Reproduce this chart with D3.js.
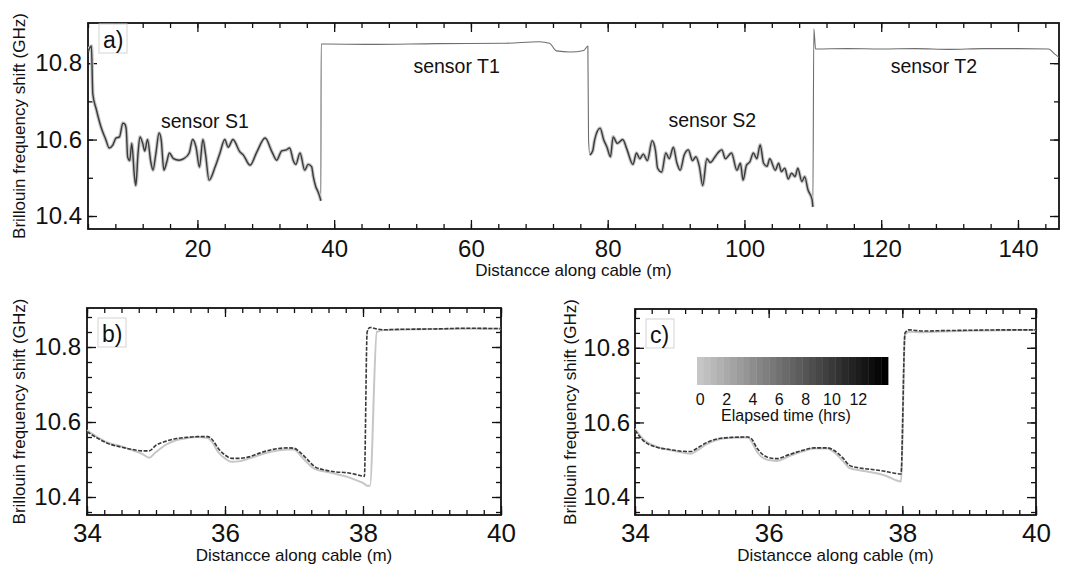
<!DOCTYPE html>
<html>
<head>
<meta charset="utf-8">
<script src="https://cdn.jsdelivr.net/npm/d3@7"></script>
<style>
  body { margin: 0; background: #fff; }
  text { font-family: "Liberation Sans", Arial, sans-serif; fill: #111; }
</style>
</head>
<body>
<svg id="chart" width="1077" height="571"></svg>
<script>
// panel a: whole cable profile (m, GHz)
var distA = [4.0, 4.5, 4.7, 5.2, 5.9, 6.6, 7.1, 7.6, 8.1, 8.6, 9.1, 9.4, 9.6, 9.8, 10.1, 10.4, 10.8, 11.0, 11.3, 11.6,
  12.0, 12.3, 12.7, 13.2, 13.5, 13.9, 14.4, 14.7, 15.1, 15.5, 15.9, 16.5, 17.3, 18.0, 18.8, 19.3, 19.8, 20.3, 20.8, 21.2,
  21.7, 22.6, 23.3, 24.0, 24.5, 25.2, 26.2, 26.7, 27.7, 28.7, 29.9, 30.9, 31.6, 32.3, 33.0, 33.5, 34.0, 34.4, 35.0, 35.7,
  36.2, 36.7, 36.95, 37.3, 37.6, 37.9, 38.05,
  38.1, 38.5, 45, 55, 65, 70, 71.5, 72.5, 74.5, 76.5, 77.1,
  77.2, 77.4, 77.8, 78.1, 78.9, 79.4, 79.9, 80.4, 80.8, 81.4, 82.2, 82.8, 83.7, 84.2, 84.7, 85.2, 85.8, 86.5, 87.0, 87.3,
  87.9, 88.5, 89.0, 89.6, 90.1, 90.6, 91.2, 91.8, 92.4, 92.9, 93.4, 93.9, 94.5, 95.0, 95.7, 96.1, 96.7, 97.2, 98.1, 98.9,
  99.4, 99.8, 100.3, 100.8, 101.3, 101.8, 102.3, 102.8, 103.3, 103.7, 104.5, 105.0, 105.4, 105.9, 106.4, 106.9, 107.4,
  107.8, 108.4, 108.8, 109.3, 109.9, 110.0,
  110.15, 110.4, 115, 120, 125, 130, 135, 140, 144.5, 145.3, 146];
var bfsA = [10.83, 10.845, 10.72, 10.68, 10.633, 10.6, 10.578, 10.585, 10.604, 10.607, 10.643, 10.64, 10.625, 10.554, 10.545, 10.59, 10.502, 10.48, 10.56, 10.607,
  10.59, 10.57, 10.6, 10.54, 10.52, 10.56, 10.617, 10.6, 10.52, 10.54, 10.565, 10.55, 10.546, 10.55, 10.565, 10.6, 10.58, 10.528, 10.6, 10.56,
  10.494, 10.529, 10.565, 10.6, 10.58, 10.6, 10.568, 10.56, 10.533, 10.568, 10.604, 10.568, 10.546, 10.57, 10.573, 10.578, 10.546, 10.535, 10.565, 10.52,
  10.535, 10.529, 10.503, 10.477, 10.465, 10.45, 10.44,
  10.85, 10.85, 10.849, 10.851, 10.852, 10.856, 10.852, 10.832, 10.829, 10.833, 10.845,
  10.6, 10.56, 10.57, 10.6, 10.63, 10.6, 10.58, 10.555, 10.607, 10.59, 10.6, 10.575, 10.535, 10.565, 10.55, 10.562, 10.545, 10.597, 10.57, 10.525,
  10.515, 10.565, 10.55, 10.58, 10.54, 10.52, 10.56, 10.573, 10.545, 10.555, 10.53, 10.48, 10.55, 10.54, 10.555, 10.565, 10.573, 10.55, 10.565, 10.52,
  10.538, 10.494, 10.533, 10.542, 10.565, 10.55, 10.586, 10.538, 10.53, 10.55, 10.52, 10.538, 10.516, 10.525, 10.497, 10.512, 10.503,
  10.525, 10.49, 10.503, 10.468, 10.442, 10.424,
  10.89, 10.837, 10.838, 10.837, 10.838, 10.836, 10.838, 10.838, 10.837, 10.825, 10.815];

// panel b: zoom 34-40 m, first and last scans
var distB = [34.0, 34.15, 34.3, 34.5, 34.65, 34.8, 34.9, 35.0, 35.15, 35.3, 35.45, 35.6, 35.75, 35.82, 35.9, 36.0, 36.1, 36.2, 36.35,
  36.5, 36.7, 36.9, 37.0, 37.1, 37.2, 37.3, 37.45, 37.6, 37.75, 37.9, 38.02, 38.06, 38.1, 38.2, 38.3, 38.5, 39.0, 39.5, 40.0];
var bfsBFirst = [10.578, 10.56, 10.545, 10.535, 10.525, 10.515, 10.505, 10.52, 10.54, 10.552, 10.557, 10.56, 10.557, 10.545, 10.52, 10.503, 10.494, 10.495, 10.503,
  10.512, 10.522, 10.527, 10.527, 10.51, 10.49, 10.475, 10.468, 10.462, 10.455, 10.445, 10.435, 10.43, 10.43, 10.84, 10.845, 10.846, 10.848, 10.849, 10.849];
var bfsBLast = [10.574, 10.557, 10.543, 10.533, 10.527, 10.523, 10.523, 10.538, 10.549, 10.556, 10.559, 10.561, 10.561, 10.552, 10.530, 10.512, 10.503, 10.503, 10.507,
  10.517, 10.527, 10.531, 10.530, 10.517, 10.499, 10.481, 10.472, 10.467, 10.465, 10.460, 10.455, 10.84, 10.852, 10.848, 10.846, 10.847, 10.848, 10.850, 10.849];

// panel c: same section, other run
var distC = [34.0, 34.12, 34.31, 34.5, 34.69, 34.83, 34.93, 35.07, 35.26, 35.45, 35.69, 35.74, 35.83, 35.98, 36.12, 36.31, 36.5,
  36.69, 36.88, 36.98, 37.12, 37.21, 37.36, 37.55, 37.74, 37.98, 38.04, 38.1, 38.3, 38.6, 39.0, 39.5, 40.0];
var bfsCFirst = [10.583, 10.556, 10.536, 10.527, 10.52, 10.516, 10.525, 10.542, 10.555, 10.559, 10.56, 10.55, 10.52, 10.5, 10.497, 10.51, 10.522,
  10.53, 10.53, 10.52, 10.495, 10.478, 10.472, 10.466, 10.458, 10.442, 10.835, 10.843, 10.842, 10.844, 10.846, 10.847, 10.848];
var bfsCLast = [10.579, 10.552, 10.534, 10.528, 10.523, 10.522, 10.531, 10.546, 10.557, 10.560, 10.561, 10.557, 10.530, 10.507, 10.503, 10.514, 10.525,
  10.532, 10.532, 10.525, 10.503, 10.485, 10.478, 10.474, 10.469, 10.462, 10.84, 10.848, 10.845, 10.846, 10.847, 10.848, 10.848];

var scanHours = [0, 13];
var hourTicks = [0, 2, 4, 6, 8, 10, 12];
var sensorNames = ["sensor S1", "sensor T1", "sensor S2", "sensor T2"];
var ticksA = [20, 40, 60, 80, 100, 120, 140];
var ticksZoom = [34, 36, 38, 40];
var ticksBfs = [10.4, 10.6, 10.8];

var svg = d3.select("#chart");
var gray = d3.scaleLinear().domain([0, 14]).range(["#c6c6c6", "#000000"]);

function panel(box, xDom, yDom, xMajor, xMinor, yMinor, xFont, xPad, yPad) {
  var x = d3.scaleLinear().domain(xDom).range([box.l, box.r]);
  var y = d3.scaleLinear().domain(yDom).range([box.b, box.t]);

  var axes = [
    {a: d3.axisBottom(x), t: "translate(0," + box.b + ")", v: xMinor, s: -5},
    {a: d3.axisTop(x), t: "translate(0," + box.t + ")", v: xMinor, s: -5},
    {a: d3.axisLeft(y), t: "translate(" + box.l + ",0)", v: yMinor, s: -5},
    {a: d3.axisRight(y), t: "translate(" + box.r + ",0)", v: yMinor, s: -5},
    {a: d3.axisTop(x), t: "translate(0," + box.t + ")", v: xMajor, s: -9},
    {a: d3.axisRight(y), t: "translate(" + box.r + ",0)", v: ticksBfs, s: -9}
  ];
  axes.forEach(function(d) {
    var g = svg.append("g").attr("transform", d.t)
      .call(d.a.tickValues(d.v).tickSize(d.s).tickSizeOuter(0).tickFormat(""));
    g.select(".domain").remove();
    g.selectAll("line").attr("stroke", "#111").attr("stroke-width", 1.3);
  });

  var gx = svg.append("g").attr("transform", "translate(0," + box.b + ")")
    .call(d3.axisBottom(x).tickValues(xMajor).tickSize(-9).tickSizeOuter(0).tickPadding(xPad).tickFormat(d3.format("d")));
  gx.select(".domain").remove();
  gx.selectAll("line").attr("stroke", "#111").attr("stroke-width", 1.3);
  gx.selectAll("text").style("font-size", xFont + "px").style("font-family", '"Liberation Sans", Arial, sans-serif');

  var gy = svg.append("g").attr("transform", "translate(" + box.l + ",0)")
    .call(d3.axisLeft(y).tickValues(ticksBfs).tickSize(-9).tickSizeOuter(0).tickPadding(yPad).tickFormat(d3.format(".1f")));
  gy.select(".domain").remove();
  gy.selectAll("line").attr("stroke", "#111").attr("stroke-width", 1.3);
  gy.selectAll("text").style("font-size", "24px").style("font-family", '"Liberation Sans", Arial, sans-serif');

  svg.append("rect")
    .attr("x", box.l).attr("y", box.t)
    .attr("width", box.r - box.l).attr("height", box.b - box.t)
    .attr("fill", "none").attr("stroke", "#111").attr("stroke-width", 1.8);

  svg.append("text")
    .attr("x", (box.l + box.r) / 2).attr("y", box.b + box.xl)
    .attr("text-anchor", "middle").style("font-size", "17px")
    .text("Distancce along cable (m)");

  svg.append("text")
    .attr("transform", "translate(" + box.yl + "," + (box.t + box.b) / 2 + ") rotate(-90)")
    .attr("text-anchor", "middle").style("font-size", "17px")
    .text("Brillouin frequency shift (GHz)");

  svg.append("rect")
    .attr("x", box.l + 11).attr("y", box.t + box.lt)
    .attr("width", 28).attr("height", 29)
    .attr("fill", "#fff").attr("stroke", "#d4d4d4").attr("stroke-width", 1);
  svg.append("text")
    .attr("x", box.l + 15).attr("y", box.t + box.lt + 24)
    .style("font-size", "23px")
    .text(box.tag);

  return {x: x, y: y};
}

function trace(p, pts, color, width, clip, dash) {
  var line = d3.line()
    .curve(d3.curveMonotoneX)
    .x(function(d) { return p.x(d[0]); })
    .y(function(d) { return p.y(d[1]); });
  svg.append("path")
    .datum(pts)
    .attr("d", line)
    .attr("fill", "none")
    .attr("stroke", color)
    .attr("stroke-width", width)
    .attr("stroke-linejoin", "round")
    .attr("stroke-dasharray", dash || null)
    .attr("clip-path", "url(#" + clip + ")");
}

function pairs(xs, ys) {
  return xs.map(function(d, i) { return [d, ys[i]]; });
}

function clipFor(id, box) {
  svg.append("clipPath").attr("id", id).append("rect")
    .attr("x", box.l).attr("y", box.t - 2)
    .attr("width", box.r - box.l).attr("height", box.b - box.t + 2);
}

// panel a
var boxA = {l: 88, t: 23, r: 1059, b: 229, xl: 47, yl: 25, lt: 1, tag: "a)"};
clipFor("clipA", boxA);
var pA = panel(boxA, [4, 146], [10.366, 10.905], ticksA, d3.range(4, 147, 4), [10.4, 10.5, 10.6, 10.7, 10.8], 24, 11, 6);
var ptsA = pairs(distA, bfsA);
var strainS1 = ptsA.filter(function(d) { return d[0] <= 38.05; });
var strainS2 = ptsA.filter(function(d) { return d[0] >= 77.4 && d[0] <= 110.0; });
trace(pA, ptsA, "#6e6e6e", 1.1, "clipA");
[strainS1, strainS2].forEach(function(s) {
  trace(pA, s, gray(scanHours[0]), 3.6, "clipA");
  trace(pA, s, "#3a3a3a", 1.4, "clipA");
});

var labelSpots = [[21.1, 10.63], [57.9, 10.774], [95.3, 10.633], [127.7, 10.774]];
svg.selectAll(".sensor").data(sensorNames).enter().append("text")
  .attr("class", "sensor")
  .attr("x", function(d, i) { return pA.x(labelSpots[i][0]); })
  .attr("y", function(d, i) { return pA.y(labelSpots[i][1]); })
  .attr("text-anchor", "middle")
  .style("font-size", "19.5px")
  .text(function(d) { return d; });

// panel b
var boxB = {l: 87, t: 308, r: 501, b: 515, xl: 46, yl: 25, lt: 10, tag: "b)"};
clipFor("clipB", boxB);
var zoomMinorX = d3.range(34, 40.01, 0.25);
var zoomMinorY = d3.range(10.36, 10.9, 0.04);
var pB = panel(boxB, [34, 40], [10.352, 10.904], ticksZoom, zoomMinorX, zoomMinorY, 26, 9, 6);
trace(pB, pairs(distB, bfsBFirst), gray(scanHours[0]), 2, "clipB");
trace(pB, pairs(distB, bfsBLast), gray(10), 1.6, "clipB", "4,1.5");

// panel c
var boxC = {l: 635, t: 309, r: 1036, b: 515, xl: 46, yl: 576, lt: 10, tag: "c)"};
clipFor("clipC", boxC);
var pC = panel(boxC, [34, 40], [10.352, 10.904], ticksZoom, zoomMinorX, zoomMinorY, 26, 9, 5);
trace(pC, pairs(distC, bfsCFirst), gray(scanHours[0]), 2, "clipC");
trace(pC, pairs(distC, bfsCLast), gray(10), 1.6, "clipC", "4,1.5");

// colour bar for elapsed time
var cb = d3.scaleLinear().domain([-0.25, 14.25]).range([697, 888]);
svg.selectAll(".cell").data(d3.range(0, 14.5, 0.5)).enter().append("rect")
  .attr("class", "cell")
  .attr("x", function(d) { return cb(d - 0.25); })
  .attr("y", 357)
  .attr("width", function(d) { return cb(d + 0.25) - cb(d - 0.25) + 0.4; })
  .attr("height", 28)
  .attr("fill", function(d) { return gray(d); });

svg.selectAll(".hr").data(hourTicks).enter().append("text")
  .attr("class", "hr")
  .attr("x", function(d) { return cb(d); })
  .attr("y", 405)
  .attr("text-anchor", "middle")
  .style("font-size", "16px")
  .text(function(d) { return d; });

svg.append("text")
  .attr("x", 786).attr("y", 421)
  .attr("text-anchor", "middle")
  .style("font-size", "16px")
  .text("Elapsed time (hrs)");
</script>
</body>
</html>
